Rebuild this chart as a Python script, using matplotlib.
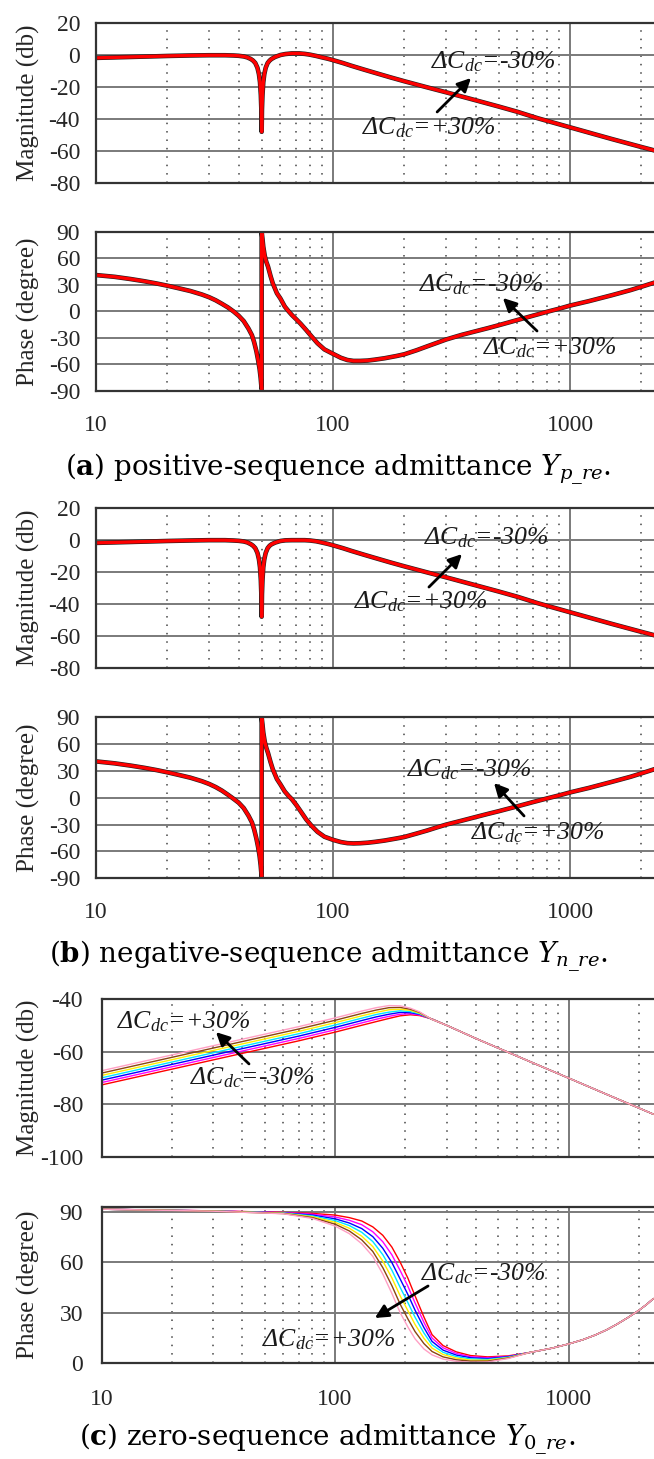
import matplotlib
matplotlib.use("Agg")
import matplotlib.pyplot as plt
from matplotlib import patheffects as pe
from matplotlib.ticker import FixedLocator, NullFormatter

plt.rcParams['font.family'] = ['Liberation Serif', 'DejaVu Serif']
plt.rcParams['mathtext.fontset'] = 'custom'
plt.rcParams['mathtext.rm'] = 'Liberation Serif:italic'
plt.rcParams['mathtext.it'] = 'Liberation Serif:italic'
plt.rcParams['mathtext.bf'] = 'Liberation Serif:bold'

# ---------------------------------------------------------------- data
# (a) positive-sequence admittance
freq_a_mag = [10, 12, 15, 18, 20, 25, 30, 35, 38, 40, 42, 43.5, 45, 46, 47,
              48, 48.7, 49.2, 49.6, 49.85, 50, 50.15, 50.4, 50.8, 51.3, 52, 53,
              54, 55, 57, 60, 63, 67, 72, 76, 80, 85, 90, 95, 100, 110, 120,
              135, 150, 175, 200, 245, 300, 400, 500, 600, 730, 1000, 1500,
              2000, 2400]
mag_a = [-1.8, -1.5, -1.1, -0.8, -0.6, -0.3, -0.15, -0.15, -0.3, -0.5, -0.9,
         -1.5, -2.5, -3.5, -5.0, -8.0, -12, -17, -25, -34, -48, -34, -25, -17,
         -12, -8.0, -5.0, -3.5, -2.5, -1.2, 0.0, 0.6, 1.0, 1.0, 0.7, 0.2,
         -0.6, -1.5, -2.3, -3.2, -5.0, -6.8, -9.1, -11.1, -14.0, -16.4, -19.9,
         -23.3, -28.3, -32.2, -35.5, -39.5, -45.2, -52.5, -57.5, -60.6]

freq_a_ph = [10, 12, 14, 16, 18, 20, 22, 25, 28, 30, 32, 34, 36, 38, 40, 42,
             44, 45.5, 46.5, 47.5, 48.3, 49, 49.5, 49.8, 50, 50, 50.4, 50.8,
             51.5, 52.3, 53.2, 54.5, 55.7, 58, 60, 62.6, 65, 67, 70, 73, 77,
             81, 86, 92, 100, 108, 115, 122, 130, 140, 150, 165, 185, 200, 225,
             250, 275, 300, 350, 400, 450, 500, 600, 700, 800, 900, 1000, 1200,
             1500, 1800, 2000, 2200, 2400]
ph_a = [41, 39, 36.5, 34, 31.5, 29, 26.5, 23, 19, 16, 12.5, 8.5, 4.5, 0, -5,
        -11, -19.5, -27, -35, -45, -55, -65, -75, -83, -88, 90, 82, 73, 63, 56,
        50.5, 40, 31.7, 20.4, 14.5, 5.4, 0, -4, -9, -14, -21, -28, -36, -43,
        -48, -52.5, -55, -56, -56, -55.6, -54.6, -53, -50.5, -48.5, -44,
        -39.5, -35.5, -31.8, -26.5, -22.5, -19, -15.7, -9.8, -4.8, -0.5, 3,
        6.5, 11.5, 18.2, 24, 27.8, 31.3, 34.5]

# (b) negative-sequence admittance
freq_b_mag = freq_a_mag
mag_b = [-1.7, -1.4, -1.0, -0.7, -0.5, -0.2, 0.0, 0.0, -0.2, -0.4, -0.8,
         -1.4, -2.5, -3.5, -5.0, -8.0, -12, -17, -25, -34, -48, -34, -25, -17,
         -12, -8.0, -5.0, -3.5, -2.6, -1.5, -0.5, -0.1, 0.0, 0.0, 0.0, -0.2,
         -0.7, -1.5, -2.3, -3.2, -5.0, -6.8, -9.1, -11.1, -14.0, -16.4, -19.9,
         -23.3, -28.3, -32.2, -35.5, -39.5, -45.2, -52.5, -57.5, -60.6]

freq_b_ph = freq_a_ph
ph_b = [40.7, 38.5, 36, 33.5, 31, 28.5, 26, 22.5, 18.5, 15.5, 12, 8, 3.5, -1,
        -5.5, -11.5, -20, -27.5, -35.5, -45.5, -55, -65, -75, -83, -88, 90,
        82, 73, 63, 56, 50, 40, 32, 21, 15, 7, 2, -1.5, -8, -15, -24, -31,
        -38, -43.5, -47, -49.5, -50.7, -51, -50.8, -50.2, -49.3, -47.8,
        -45.5, -43.8, -40, -36.5, -33, -30, -25.5, -21.5, -18, -15, -9.5,
        -4.7, -0.7, 2.7, 6, 11, 17.8, 23.5, 27.3, 30.8, 34]

# (c) zero-sequence admittance, one curve per DC-capacitance deviation
dc_change = ['-30%', '-20%', '-10%', '0%', '+10%', '+20%', '+30%']
line_colors = ['#ff0000', '#ff00ff', '#0000ff', '#00e5ff', '#ffee00',
               '#8b4513', '#ff9fc4']

freq_c_mag = [10, 20, 40, 70, 100, 130, 150, 170, 190, 210, 230, 260]
mag_c = [
    [-72.7, -66.7, -60.7, -55.9, -52.6, -50.0, -48.6, -47.4, -46.4, -46.0,
     -46.3, -47.6],
    [-71.8, -65.8, -59.8, -55.0, -51.7, -49.1, -47.7, -46.6, -45.8, -45.6,
     -46.1, -47.6],
    [-70.9, -64.9, -58.9, -54.1, -50.8, -48.2, -46.8, -45.8, -45.1, -45.2,
     -45.8, -47.7],
    [-70.0, -64.0, -58.0, -53.2, -49.9, -47.3, -45.9, -45.0, -44.5, -44.8,
     -45.6, -47.7],
    [-69.1, -63.1, -57.1, -52.3, -49.0, -46.4, -45.1, -44.1, -43.9, -44.3,
     -45.4, -47.7],
    [-68.2, -62.2, -56.2, -51.4, -48.1, -45.5, -44.2, -43.3, -43.2, -43.9,
     -45.1, -47.8],
    [-67.3, -61.3, -55.3, -50.5, -47.2, -44.6, -43.3, -42.5, -42.6, -43.5,
     -44.9, -47.8],
]
# above the resonance all seven magnitude curves coincide
freq_c_mag_tail = [300, 400, 600, 1000, 1500, 2300]
mag_c_tail = [-50.0, -55.0, -61.7, -70.1, -76.8, -83.8]

freq_c_ph = [10, 30, 60, 80, 100, 115, 130, 145, 160, 175, 190, 205, 220, 240,
             260, 290, 330, 380, 450, 550]
ph_c = [
    [91.5, 90.5, 89.6, 89.0, 88.0, 86.5, 84.5, 81.0, 76.0, 69.0, 60.0, 50.5,
     40.0, 27.5, 17.0, 10.5, 6.8, 4.6, 3.8, 4.4],
    [91.5, 90.5, 89.5, 88.5, 86.9, 84.9, 82.3, 78.1, 72.2, 64.4, 55.0, 45.7,
     35.8, 24.3, 15.0, 9.2, 5.9, 3.9, 3.3, 4.1],
    [91.5, 90.4, 89.3, 88.0, 85.8, 83.3, 80.0, 75.2, 68.3, 59.8, 50.0, 40.8,
     31.5, 21.2, 13.0, 7.8, 4.9, 3.3, 2.8, 3.9],
    [91.5, 90.4, 89.2, 87.5, 84.8, 81.8, 77.8, 72.3, 64.5, 55.3, 45.0, 36.0,
     27.3, 18.0, 11.0, 6.5, 4.0, 2.6, 2.3, 3.6],
    [91.5, 90.4, 89.1, 87.0, 83.7, 80.2, 75.5, 69.3, 60.7, 50.7, 40.0, 31.2,
     23.0, 14.8, 9.0, 5.2, 3.1, 1.9, 1.8, 3.3],
    [91.5, 90.3, 88.9, 86.5, 82.6, 78.6, 73.3, 66.4, 56.8, 46.1, 35.0, 26.3,
     18.8, 11.7, 7.0, 3.8, 2.1, 1.3, 1.3, 3.1],
    [91.5, 90.3, 88.8, 86.0, 81.5, 77.0, 71.0, 63.5, 53.0, 41.5, 30.0, 21.5,
     14.5, 8.5, 5.0, 2.5, 1.2, 0.6, 0.8, 2.8],
]
# phase curves merge again above about 680 Hz
freq_c_ph_tail = [680, 850, 1000, 1150, 1300, 1450, 1600, 1800, 2000, 2150,
                  2300]
ph_c_tail = [6.4, 9.0, 11.5, 14.0, 16.8, 19.8, 23.0, 27.3, 31.5, 34.8, 38.3]

# ---------------------------------------------------------------- layout
W, H = 654, 1459
fig = plt.figure(figsize=(W / 100, H / 100), dpi=100)
RIGHT = 700          # axes run past the right border of the page

GRID = '#7a7a7a'
SPINE = '#333333'
TXT = '#262626'


def panel(left, top, bottom, decade, ylim, yticks, ylabel, xlabels,
          ypad, xpad):
    ax = fig.add_axes([left / W, 1 - bottom / H, (RIGHT - left) / W,
                       (bottom - top) / H])
    ax.set_xscale('log')
    ax.set_xlim(10, 10 ** (1 + (RIGHT - left) / decade))
    ax.set_ylim(*ylim)
    ax.set_yticks(yticks)
    ax.set_yticklabels([str(t) for t in yticks])
    ax.xaxis.set_major_locator(FixedLocator([10, 100, 1000]))
    ax.xaxis.set_minor_locator(FixedLocator(
        [m * 10 ** e for e in (1, 2, 3) for m in range(2, 10)]))
    ax.xaxis.set_minor_formatter(NullFormatter())
    if xlabels:
        ax.set_xticklabels(['10', '100', '1000'])
    else:
        ax.set_xticklabels([])
    ax.grid(which='major', axis='both', color=GRID, lw=1.4, ls='-')
    ax.grid(which='minor', axis='x', color='#444444', lw=1.1,
            ls=(0, (1, 4.5)))
    ax.set_axisbelow(True)
    ax.tick_params(which='both', length=0, labelsize=17, colors=TXT)
    ax.tick_params(axis='y', pad=ypad)
    ax.tick_params(axis='x', pad=xpad)
    for side in ('left', 'top', 'bottom'):
        ax.spines[side].set_color(SPINE)
        ax.spines[side].set_linewidth(1.6)
    ax.spines['right'].set_visible(False)
    fig.text(28 / W, 1 - (top + bottom) / 2 / H, ylabel, rotation=90,
             ha='center', va='center', fontsize=18, color=TXT)
    return ax


def label(ax, x, y, sign):
    ax.text(x, y, r'$\Delta C_{dc}$=' + sign + '30%', ha='left', va='center',
            fontsize=18.5, style='italic', color='#1a1a1a')


def arrow(ax, tail, head):
    ax.annotate('', xy=head, xytext=tail,
                arrowprops=dict(arrowstyle='-|>', color='black', lw=2.0,
                                mutation_scale=20, shrinkA=0, shrinkB=0))


outline = [pe.Stroke(linewidth=3.3, foreground='#202020'), pe.Normal()]

# (a)
ax = panel(96, 23, 183, 237, (-80, 20), [20, 0, -20, -40, -60, -80],
           'Magnitude (db)', False, 11.5, 17)
ax.plot(freq_a_mag, mag_a, color='red', lw=2.4, path_effects=outline)
label(ax, 259, -4.4, '-')
label(ax, 132.6, -45.6, '+')
arrow(ax, (275, -35.6), (382, -14.4))

ax = panel(96, 231.7, 391, 237, (-90, 90), [90, 60, 30, 0, -30, -60, -90],
           'Phase (degree)', True, 11.5, 17)
ax.plot(freq_a_ph, ph_a, color='red', lw=2.4, path_effects=outline)
label(ax, 230.7, 29.8, '-')
label(ax, 429.6, -41.4, '+')
arrow(ax, (726, -22.2), (521, 15.1))

fig.text(338 / W, 1 - 476 / H,
         r'($\mathbf{a}$) positive-sequence admittance $Y_{p\_re}$.',
         ha='center', va='baseline', fontsize=20, family='DejaVu Serif',
         math_fontfamily='dejavuserif', color='black')

# (b)
ax = panel(96, 508.3, 667.7, 237, (-80, 20), [20, 0, -20, -40, -60, -80],
           'Magnitude (db)', False, 11.5, 17)
ax.plot(freq_b_mag, mag_b, color='red', lw=2.4, path_effects=outline)
label(ax, 242, 1.4, '-')
label(ax, 122.6, -38.8, '+')
arrow(ax, (254, -29.4), (350, -8.7))

ax = panel(96, 717.3, 878.3, 237, (-90, 90), [90, 60, 30, 0, -30, -60, -90],
           'Phase (degree)', True, 11.5, 17)
ax.plot(freq_b_ph, ph_b, color='red', lw=2.4, path_effects=outline)
label(ax, 205, 31.1, '-')
label(ax, 382, -39.4, '+')
arrow(ax, (640, -20.3), (478, 16.5))

fig.text(328 / W, 1 - 963 / H,
         r'($\mathbf{b}$) negative-sequence admittance $Y_{n\_re}$.',
         ha='center', va='baseline', fontsize=20, family='DejaVu Serif',
         math_fontfamily='dejavuserif', color='black')

# (c)
ax = panel(101.5, 999, 1156.7, 233.6, (-100, -40), [-40, -60, -80, -100],
           'Magnitude (db)', False, 13.3, 18.3)
for vals, col in zip(mag_c, line_colors):
    ax.plot(freq_c_mag + freq_c_mag_tail, vals + mag_c_tail, color=col,
            lw=1.0)
label(ax, 11.65, -48.75, '+')
label(ax, 23.9, -70.1, '-')
arrow(ax, (42.8, -64.7), (30.9, -52.6))

ax = panel(101.5, 1207, 1363.3, 233.6, (0, 92.8), [90, 60, 30, 0],
           'Phase (degree)', True, 13.3, 18.3)
for vals, col in zip(ph_c, line_colors):
    ax.plot(freq_c_ph + freq_c_ph_tail, vals + ph_c_tail, color=col, lw=1.0)
label(ax, 233.4, 53.0, '-')
label(ax, 48.7, 13.8, '+')
arrow(ax, (250, 45.9), (148, 26.9))

fig.text(327 / W, 1 - 1446 / H,
         r'($\mathbf{c}$) zero-sequence admittance $Y_{0\_re}$.',
         ha='center', va='baseline', fontsize=20, family='DejaVu Serif',
         math_fontfamily='dejavuserif', color='black')

fig.savefig('out.png', dpi=100)
